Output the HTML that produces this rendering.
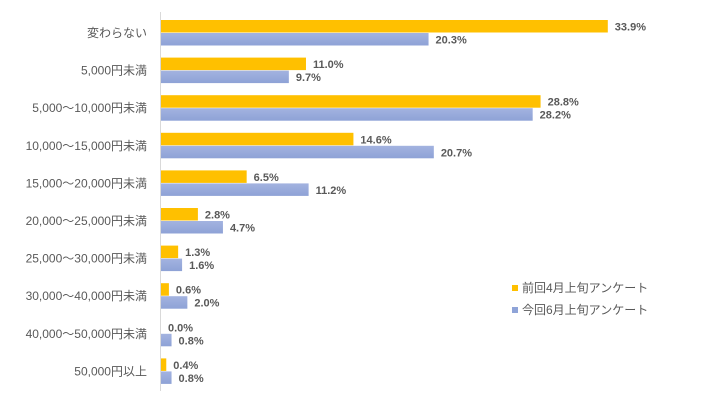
<!DOCTYPE html>
<html><head><meta charset="utf-8"><style>
body{margin:0;background:#fff;}
svg text{font-family:"Liberation Sans","Noto Sans CJK JP",sans-serif;}
</style></head><body>
<svg width="712" height="401">
<defs><linearGradient id="bg" x1="0" y1="0" x2="0" y2="1"><stop offset="0" stop-color="#a3b3e0"/><stop offset="1" stop-color="#8ea2d6"/></linearGradient></defs>
<g id="plot"></g>
<line x1="160.5" y1="12" x2="160.5" y2="391" stroke="#d9d9d9"/>
<g>
<rect x="512" y="285" width="6" height="6" fill="#FFC000"/>
<text x="522" y="292" font-size="12" fill="#595959">前回4月上旬アンケート</text>
<rect x="512" y="307" width="6" height="6" fill="#8fa4d8"/>
<text x="522" y="314" font-size="12" fill="#595959">今回6月上旬アンケート</text>
</g>
</svg>
<script>
const categories=["変わらない","5,000円未満","5,000～10,000円未満","10,000～15,000円未満","15,000～20,000円未満","20,000～25,000円未満","25,000～30,000円未満","30,000～40,000円未満","40,000～50,000円未満","50,000円以上"];
const aprilValues=[33.9,11.0,28.8,14.6,6.5,2.8,1.3,0.6,0.0,0.4];
const juneValues=[20.3,9.7,28.2,20.7,11.2,4.7,1.6,2.0,0.8,0.8];
const x0=161, pxPer=13.18;
const xs=v=>x0+v*pxPer;
const yc=i=>33+i*37.6;
const g=document.getElementById('plot');
const NS="http://www.w3.org/2000/svg";
function mk(t,a){const e=document.createElementNS(NS,t);for(const k in a)e.setAttribute(k,a[k]);g.appendChild(e);return e;}
categories.forEach((c,i)=>{
  const y=yc(i);
  const t=mk('text',{x:147,y:y+4,'font-size':12,fill:'#595959','text-anchor':'end'});t.textContent=c;
  
  
  [[aprilValues[i],'#FFC000',y-13,'bar-april'],[juneValues[i],'url(#bg)',y,'bar-june']].forEach(([v,f,top,n])=>{
    const r=mk('rect',{x:x0,y:top,width:Math.max(0,xs(v)-x0),height:12.5,fill:f});
    
    
    const l=mk('text',{x:xs(v)+7,y:top+10.5,'font-size':11,'font-weight':'bold',fill:'#595959'});l.textContent=v.toFixed(1)+'%';
    
    
  });
});
</script>
</body></html>
